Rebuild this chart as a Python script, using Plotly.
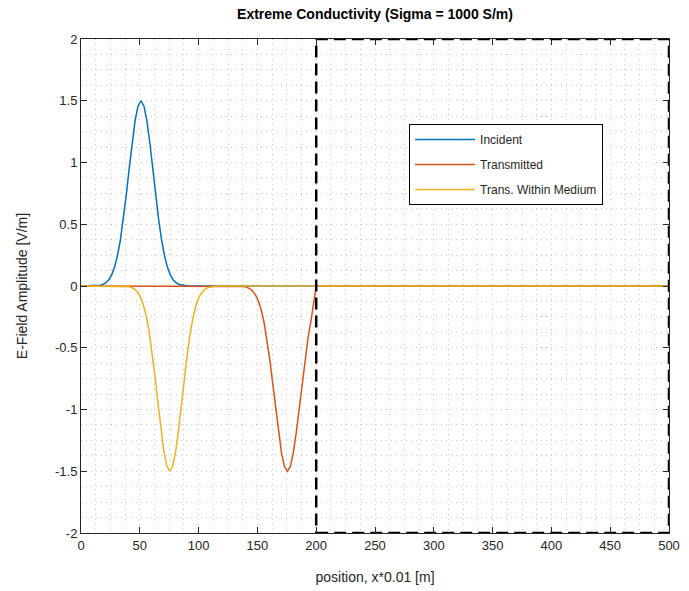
import plotly.graph_objects as go

# ---- data ----
incident_x = [0, 11, 13.5, 16, 18.5, 21, 23.5, 26, 28.5, 31, 33.5, 36, 38.5, 41, 43.5, 46, 48.5,
              51, 53.5, 56, 58.5, 61, 63.5, 66, 68.5, 71, 73.5, 76, 78.5, 81, 83.5, 86, 88.5, 91, 500]
incident_y = [0, 0, 0.003, 0.006, 0.012, 0.025, 0.049, 0.088, 0.151, 0.245, 0.374, 0.541, 0.738, 0.953,
              1.162, 1.339, 1.458, 1.5, 1.458, 1.339, 1.162, 0.953, 0.738, 0.541, 0.374, 0.245, 0.151,
              0.088, 0.049, 0.025, 0.012, 0.006, 0.003, 0, 0]

transmitted_x = [0, 135.5, 138, 140.5, 143, 145.5, 148, 150.5, 153, 155.5, 158, 160.5, 163, 165.5, 168,
                 170.5, 173, 175.5, 178, 180.5, 183, 185.5, 188, 190.5, 193, 195.5, 198, 200, 500]
transmitted_y = [0, 0, -0.004, -0.009, -0.019, -0.036, -0.066, -0.113, -0.185, -0.287, -0.423, -0.592,
                 -0.786, -0.992, -1.189, -1.353, -1.462, -1.5, -1.462, -1.353, -1.189, -0.992, -0.786,
                 -0.592, -0.423, -0.287, -0.12, 0, 0]

within_x = [0, 35.5, 38, 40.5, 43, 45.5, 48, 50.5, 53, 55.5, 58, 60.5, 63, 65.5, 68, 70.5, 73, 75.5,
            78, 80.5, 83, 85.5, 88, 90.5, 93, 95.5, 98, 100.5, 103, 105.5, 108, 110.5, 113, 115.5, 500]
within_y = [0, 0, -0.003, -0.006, -0.012, -0.025, -0.049, -0.088, -0.151, -0.245, -0.374, -0.541,
            -0.738, -0.953, -1.162, -1.339, -1.458, -1.5, -1.458, -1.339, -1.162, -0.953, -0.738,
            -0.541, -0.374, -0.245, -0.151, -0.088, -0.049, -0.025, -0.012, -0.006, -0.003, 0, 0]

medium_x = [200, 500, 500, 200, 200]
medium_y = [-2, -2, 2, 2, -2]

names = ["Incident", "Transmitted", "Trans. Within Medium"]
colors = ["#0072BD", "#D95319", "#EDB120"]

x_ticks = [0, 50, 100, 150, 200, 250, 300, 350, 400, 450, 500]
y_ticks = [-2, -1.5, -1, -0.5, 0, 0.5, 1, 1.5, 2]
y_tick_text = ["-2", "-1.5", "-1", "-0.5", "0", "0.5", "1", "1.5", "2"]

fig = go.Figure()
series = [(incident_x, incident_y), (transmitted_x, transmitted_y), (within_x, within_y)]
for i, ((xs, ys), nm, c) in enumerate(zip(series, names, colors)):
    fig.add_trace(go.Scatter(x=xs, y=ys, mode="lines", name=nm, legendgroup=str(i),
                             line=dict(color=c, width=1.5)))

fig.add_trace(go.Scatter(x=medium_x, y=medium_y, mode="lines", showlegend=False, hoverinfo="skip",
                         line=dict(color="black", width=2.5, dash="12px,6px")))

font_family = "Liberation Sans, Arial, sans-serif"
grid_col = "#c8c8c8"
axis_col = "#262626"
grid_dash = "1px,4px"

common = dict(showline=True, linecolor=axis_col, linewidth=1, mirror="ticks", ticks="inside",
              ticklen=6, tickcolor=axis_col, showgrid=True, gridcolor=grid_col, griddash=grid_dash,
              gridwidth=1, zeroline=False, automargin=False,
              tickfont=dict(size=13, color="#262626", family=font_family))

fig.update_xaxes(range=[0, 500], tickvals=x_ticks,
                 minor=dict(dtick=12.5, showgrid=True, gridcolor=grid_col, griddash=grid_dash, ticks=""),
                 title=dict(text="position, x*0.01 [m]", font=dict(size=14, color="#262626"), standoff=20),
                 **common)
fig.update_yaxes(range=[-2, 2], tickvals=y_ticks, ticktext=y_tick_text,
                 minor=dict(dtick=0.125, showgrid=True, gridcolor=grid_col, griddash=grid_dash, ticks=""),
                 title=dict(text="E-Field Amplitude [V/m]", font=dict(size=14, color="#262626"), standoff=24),
                 **common)

fig.update_layout(
    width=689, height=591,
    margin=dict(l=81, r=20, t=39, b=58, autoexpand=False),
    paper_bgcolor="white", plot_bgcolor="white",
    font=dict(family=font_family, color="#262626"),
    title=dict(text="<b>Extreme Conductivity (Sigma = 1000 S/m)</b>", x=0.5, xref="paper",
               xanchor="center", y=0.976, yanchor="middle", font=dict(size=14, color="black")),
    showlegend=True,
    legend=dict(x=0.558, y=0.828, xanchor="left", yanchor="top", bgcolor="white",
                bordercolor="black", borderwidth=1, font=dict(size=12, color="#262626"),
                traceorder="grouped", tracegroupgap=6, itemwidth=60),
)

fig.write_html("out.html")
